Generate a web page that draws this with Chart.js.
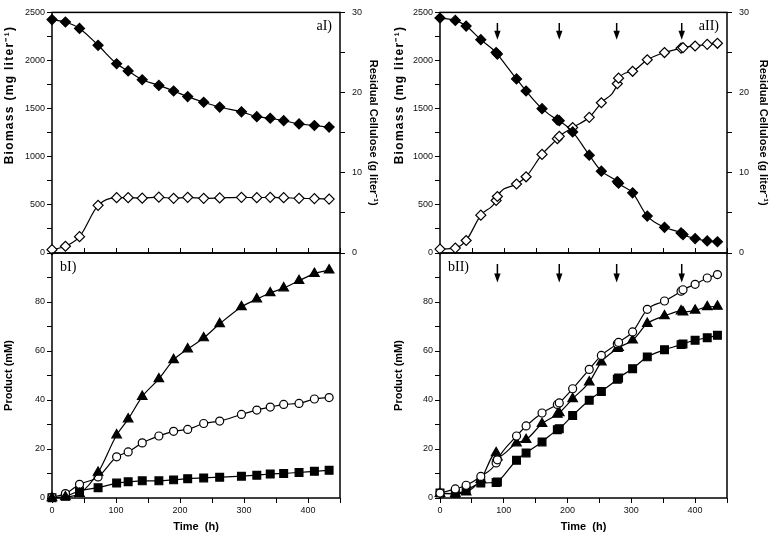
<!DOCTYPE html>
<html>
<head>
<meta charset="utf-8">
<script src="https://cdn.jsdelivr.net/npm/chart.js@4.4.1/dist/chart.umd.min.js"></script>
<style>
  html, body { margin: 0; padding: 0; background: #fff; }
  #figure { position: relative; width: 779px; height: 541px; }
  #figure canvas { position: absolute; left: 0; top: 0; }
</style>
</head>
<body>
<div id="figure">
  <canvas id="aI" width="779" height="541"></canvas>
  <canvas id="bI" width="779" height="541"></canvas>
  <canvas id="aII" width="779" height="541"></canvas>
  <canvas id="bII" width="779" height="541"></canvas>
</div>
<script>
// --- Données ---

// Culture I (temps en h)
const tempsI = [0, 21, 43, 72, 101, 119, 141, 167, 190, 212, 237, 262, 296, 320, 341, 362, 386, 410, 433];
const celluloseI = [29.1, 28.8, 28.0, 25.9, 23.6, 22.7, 21.6, 20.9, 20.2, 19.5, 18.8, 18.2, 17.6, 17.0, 16.8, 16.5, 16.1, 15.9, 15.7];
const biomasseI = [35, 70, 170, 495, 575, 575, 570, 580, 568, 578, 568, 572, 578, 575, 578, 575, 568, 565, 560];
const produitTriangleI = [0, 0.4, 1.8, 10.4, 25.7, 32.2, 41.4, 48.6, 56.4, 60.8, 65.3, 71.1, 78, 81.2, 83.7, 85.7, 88.7, 91.6, 93];
const produitCercleI = [0.3, 1.8, 5.6, 8.6, 16.8, 18.8, 22.5, 25.3, 27.2, 28, 30.4, 31.4, 34.1, 35.9, 37.1, 38.2, 38.6, 40.4, 41];
const produitCarreI = [0.1, 0.7, 2.9, 4.2, 6.1, 6.6, 7.0, 7.0, 7.4, 7.9, 8.2, 8.5, 8.9, 9.3, 9.8, 10, 10.4, 10.9, 11.3];

// Culture II (ajouts successifs)
const tempsII = [0, 24, 41, 64, 88, 90, 120, 135, 160, 184, 187, 208, 234, 253, 278, 280, 302, 325, 352, 378, 381, 400, 419, 435];
const celluloseII = [29.3, 29.0, 28.3, 26.6, 25.0, 24.8, 21.7, 20.2, 18.0, 16.6, 16.5, 15.1, 12.2, 10.2, 8.9, 8.7, 7.5, 4.6, 3.2, 2.5, 2.3, 1.8, 1.5, 1.4];
const biomasseII = [41, 51, 130, 393, 546, 587, 717, 792, 1024, 1188, 1212, 1304, 1410, 1561, 1759, 1817, 1888, 2008, 2083, 2128, 2134, 2151, 2168, 2179];
const produitCercleII = [2, 3.7, 5.2, 8.8, 14.3, 15.6, 25.3, 29.4, 34.7, 38.2, 38.8, 44.6, 52.5, 58.2, 63, 63.5, 67.8, 77, 80.4, 84.4, 85, 87.2, 89.8, 91.2];
const produitTriangleII = [1.8, 1.8, 2.4, 7.5, 18.4, 16.7, 22.4, 23.8, 30.3, 34.1, 34.7, 40.5, 47.3, 55.5, 61, 61.4, 64.4, 71.2, 74.3, 76.3, 75.9, 76.6, 78, 78.2];
const produitCarreII = [2, 1.8, 3.1, 6.1, 6.3, 6.5, 15.4, 18.4, 22.9, 27.9, 28.3, 33.7, 39.9, 43.5, 48.5, 49, 52.8, 57.6, 60.5, 62.6, 62.9, 64.4, 65.4, 66.4];

// Moments des ajouts (flèches)
const ajoutsII = [90, 187, 277, 379];

// --- Réglages communs ---
Chart.defaults.font.family = "'Liberation Sans', Arial, sans-serif";
Chart.defaults.color = '#111';

const POLICE_TICKS = { size: 9 };
const POLICE_TITRE = { size: 11, weight: 'bold' };

function points(xs, ys) {
  return xs.map((x, i) => ({ x: x, y: ys[i] }));
}

// Fonction pour créer une série avec son marqueur
function serie(xs, ys, style, rayon, plein, axe) {
  return {
    data: points(xs, ys),
    yAxisID: axe || 'y',
    borderColor: '#000',
    borderWidth: 1.2,
    backgroundColor: plein ? '#000' : '#fff',
    pointStyle: style,
    pointRadius: rayon,
    pointBorderColor: '#000',
    pointBackgroundColor: plein ? '#000' : '#fff',
    pointBorderWidth: 1.2,
    cubicInterpolationMode: 'monotone',
    fill: false,
    clip: false
  };
}

function axeTemps(bas) {
  return {
    type: 'linear', position: 'bottom', min: 0, max: 450,
    ticks: {
      display: bas, stepSize: 50, autoSkip: false, maxRotation: 0, padding: 2,
      font: POLICE_TICKS, callback: v => (v % 100 === 0 ? v : '')
    },
    grid: { drawOnChartArea: false, drawTicks: bas, tickLength: 5, color: '#000', lineWidth: 1 },
    border: { display: false },
    title: { display: bas, text: 'Time  (h)', color: '#000', font: POLICE_TITRE, padding: { top: 0, bottom: 7.7 } },
    afterFit: s => { s.height = bas ? 43 : 1; }
  };
}

function axeGauche(titre, max, pas, pasLabel, largeur) {
  return {
    type: 'linear', position: 'left', min: 0, max: max,
    ticks: {
      stepSize: pas, autoSkip: false, padding: 2, font: POLICE_TICKS,
      callback: v => (v % pasLabel === 0 && (max > 200 || v < max) ? v : '')
    },
    grid: { drawOnChartArea: false, tickLength: 5, color: '#000', lineWidth: 1 },
    border: { display: false },
    title: { display: titre !== '', text: titre, color: '#000', font: POLICE_TITRE, padding: { top: 2.7, bottom: 0 } },
    afterFit: s => { s.width = largeur; }
  };
}

function axeDroit(largeur) {
  return {
    type: 'linear', position: 'right', min: 0, max: 30,
    ticks: {
      stepSize: 5, autoSkip: false, padding: 7, font: POLICE_TICKS,
      callback: v => (v % 10 === 0 ? v : '')
    },
    grid: { drawOnChartArea: false, tickLength: 5, color: '#000', lineWidth: 1 },
    border: { display: false },
    title: { display: true, text: 'Residual Cellulose (g liter⁻¹)', color: '#000', font: POLICE_TITRE, padding: { top: 0, bottom: 0 } },
    afterFit: s => { s.width = largeur; }
  };
}

// Cadre, graduations internes, titre biomasse, étiquette du panneau et flèches
const panneauPlugin = {
  id: 'panneau',
  beforeDatasetsDraw(chart, args, opts) {
    const a = chart.chartArea;
    const ctx = chart.ctx;
    ctx.save();
    ctx.strokeStyle = '#000';
    ctx.lineWidth = 1.5;
    ctx.strokeRect(a.left, a.top, a.right - a.left, a.bottom - a.top);
    if (opts.ticksInternes) {
      const xs = chart.scales.x;
      ctx.lineWidth = 1;
      xs.ticks.forEach(t => {
        const px = Math.round(xs.getPixelForValue(t.value)) + 0.5;
        ctx.beginPath();
        ctx.moveTo(px, a.bottom);
        ctx.lineTo(px, a.bottom - 5);
        ctx.stroke();
      });
    }
    ctx.restore();
  },
  afterDraw(chart, args, opts) {
    const a = chart.chartArea;
    const ctx = chart.ctx;
    ctx.save();
    ctx.fillStyle = '#000';

    if (opts.titreGauche) {
      const ys = chart.scales.y;
      ctx.save();
      ctx.translate(ys.left + 9.5, 95);
      ctx.rotate(-Math.PI / 2);
      ctx.font = "bold 12px 'Liberation Sans', Arial, sans-serif";
      if ('letterSpacing' in ctx) ctx.letterSpacing = '1.3px';
      ctx.textAlign = 'center';
      ctx.textBaseline = 'middle';
      ctx.fillText(opts.titreGauche, 0, 0);
      ctx.restore();
    }

    ctx.font = "14px 'Liberation Serif', 'Times New Roman', serif";
    ctx.textBaseline = 'middle';
    if (opts.coin === 'droite') {
      ctx.textAlign = 'right';
      ctx.fillText(opts.texte, a.right - 8, a.top + 14);
    } else {
      ctx.textAlign = 'left';
      ctx.fillText(opts.texte, a.left + 8, a.top + 14);
    }
    if (opts.fleches) {
      const xs = chart.scales.x;
      const ys = chart.scales.y;
      ctx.strokeStyle = '#000';
      ctx.lineWidth = 1.5;
      opts.fleches.forEach(t => {
        const x = xs.getPixelForValue(t);
        const y0 = ys.getPixelForValue(opts.queue);
        const y1 = ys.getPixelForValue(opts.pointe);
        ctx.beginPath();
        ctx.moveTo(x, y0);
        ctx.lineTo(x, y1 - 8);
        ctx.stroke();
        ctx.beginPath();
        ctx.moveTo(x - 3.2, y1 - 9);
        ctx.lineTo(x + 3.2, y1 - 9);
        ctx.lineTo(x, y1);
        ctx.closePath();
        ctx.fill();
      });
    }
    ctx.restore();
  }
};
Chart.register(panneauPlugin);

function creerGraphique(id, datasets, scales, padding, panneau) {
  const ctx = document.getElementById(id).getContext('2d');
  return new Chart(ctx, {
    type: 'line',
    data: { datasets: datasets },
    options: {
      responsive: false,
      animation: false,
      devicePixelRatio: 1,
      layout: { padding: padding },
      scales: scales,
      plugins: {
        legend: { display: false },
        tooltip: { enabled: false },
        panneau: panneau
      }
    }
  });
}

const TITRE_BIOMASSE = 'Biomass (mg liter⁻¹)';

// aI
creerGraphique('aI', [
  serie(tempsI, celluloseI, 'rectRot', 5, true, 'y2'),
  serie(tempsI, biomasseI, 'rectRot', 5, false, 'y')
], {
  x: axeTemps(false),
  y: axeGauche('', 2500, 250, 500, 52),
  y2: axeDroit(40)
}, { left: 0, right: 399, top: 9, bottom: 287 },
{ texte: 'aI)', coin: 'droite', ticksInternes: true, titreGauche: TITRE_BIOMASSE });

// bI
creerGraphique('bI', [
  serie(tempsI, produitTriangleI, 'triangle', 5.5, true),
  serie(tempsI, produitCercleI, 'circle', 4, false),
  serie(tempsI, produitCarreI, 'rect', 5.5, true)
], {
  x: axeTemps(true),
  y: axeGauche('Product (mM)', 100, 10, 20, 52)
}, { left: 0, right: 439, top: 253, bottom: 0 }, { texte: 'bI)', coin: 'gauche' });

// aII
creerGraphique('aII', [
  serie(tempsII, celluloseII, 'rectRot', 5, true, 'y2'),
  serie(tempsII, biomasseII, 'rectRot', 5, false, 'y')
], {
  x: axeTemps(false),
  y: axeGauche('', 2500, 250, 500, 50),
  y2: axeDroit(43)
}, { left: 390, right: 9, top: 9, bottom: 287 },
{ texte: 'aII)', coin: 'droite', ticksInternes: true, titreGauche: TITRE_BIOMASSE, fleches: ajoutsII, queue: 2390, pointe: 2215 });

// bII
creerGraphique('bII', [
  serie(tempsII, produitCercleII, 'circle', 4, false),
  serie(tempsII, produitTriangleII, 'triangle', 5.5, true),
  serie(tempsII, produitCarreII, 'rect', 5.5, true)
], {
  x: axeTemps(true),
  y: axeGauche('Product (mM)', 100, 10, 20, 50)
}, { left: 390, right: 52, top: 253, bottom: 0 }, { texte: 'bII)', coin: 'gauche', fleches: ajoutsII, queue: 95.5, pointe: 88 });
</script>
</body>
</html>
